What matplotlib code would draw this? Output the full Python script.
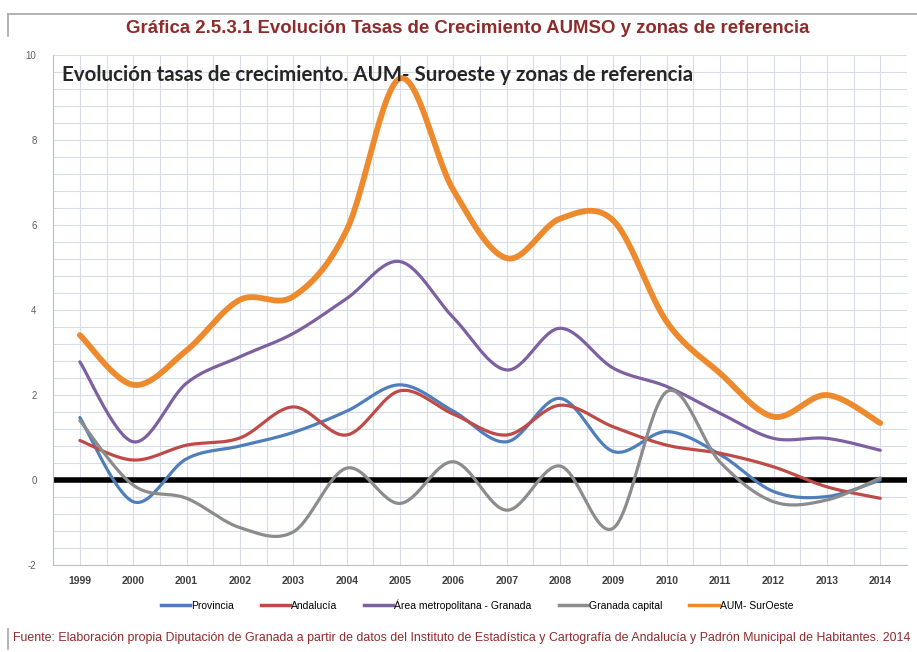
import numpy as np
import matplotlib
matplotlib.use("Agg")
import matplotlib.pyplot as plt
from matplotlib.lines import Line2D

# datos (tasas de crecimiento, %)
years = [str(y) for y in range(1999, 2015)]
provincia = [1.47, -0.51, 0.5, 0.8, 1.12, 1.62, 2.24, 1.62, 0.9, 1.92, 0.67, 1.14, 0.6, -0.27, -0.39, 0.0]
andalucia = [0.93, 0.47, 0.82, 0.99, 1.72, 1.06, 2.1, 1.55, 1.06, 1.76, 1.25, 0.82, 0.63, 0.31, -0.16, -0.43]
area_metro = [2.78, 0.9, 2.28, 2.9, 3.45, 4.27, 5.14, 3.82, 2.59, 3.57, 2.63, 2.2, 1.57, 0.98, 0.98, 0.7]
granada_cap = [1.4, -0.12, -0.43, -1.12, -1.22, 0.28, -0.55, 0.43, -0.71, 0.33, -1.13, 2.08, 0.42, -0.51, -0.47, 0.05]
aum_suroeste = [3.41, 2.24, 3.05, 4.24, 4.32, 5.88, 9.45, 6.82, 5.22, 6.15, 6.1, 3.72, 2.51, 1.49, 2.0, 1.34]

series = [
    ("Provincia", provincia, "#4F7EBB", 2.3),
    ("Andalucía", andalucia, "#BE4B48", 2.3),
    ("Área metropolitana - Granada", area_metro, "#7D60A0", 2.3),
    ("Granada capital", granada_cap, "#8C8C8C", 2.3),
    ("AUM- SurOeste", aum_suroeste, "#EE8A2E", 4.2),
]


def smooth(y, n=30):
    # curva suavizada tipo Excel (Bezier / Catmull-Rom)
    y = np.asarray(y, dtype=float)
    x = np.arange(len(y), dtype=float)
    xs, ys = [], []
    for i in range(len(y) - 1):
        p0 = (x[max(i - 1, 0)], y[max(i - 1, 0)])
        p1 = (x[i], y[i])
        p2 = (x[i + 1], y[i + 1])
        p3 = (x[min(i + 2, len(y) - 1)], y[min(i + 2, len(y) - 1)])
        c1 = (p1[0] + (p2[0] - p0[0]) / 6, p1[1] + (p2[1] - p0[1]) / 6)
        c2 = (p2[0] - (p3[0] - p1[0]) / 6, p2[1] - (p3[1] - p1[1]) / 6)
        t = np.linspace(0, 1, n)
        for k in range(2):
            b = ((1 - t) ** 3 * p1[k] + 3 * (1 - t) ** 2 * t * c1[k]
                 + 3 * (1 - t) * t ** 2 * c2[k] + t ** 3 * p2[k])
            (xs if k == 0 else ys).append(b)
    return np.concatenate(xs), np.concatenate(ys)


narrow = ["Liberation Sans Narrow", "Liberation Sans", "DejaVu Sans"]

fig = plt.figure(figsize=(9.17, 6.52), dpi=100)
ax = fig.add_axes([0.058, 0.1334, 0.931, 0.7822])

ax.set_xlim(-0.5, len(years) - 0.5)
ax.set_ylim(-2, 10)
ax.set_yticks(np.arange(-2, 10.1, 2))
ax.set_yticks(np.arange(-2, 10.01, 0.4), minor=True)
ax.set_xticks(np.arange(len(years)))
ax.set_xticks(np.arange(-0.5, len(years), 0.5), minor=True)
ax.set_xticklabels(years, fontsize=7.5, fontweight="bold", family=narrow, color="#404040")
ax.set_yticklabels([str(v) for v in range(-2, 11, 2)], fontsize=7, family=narrow, color="#606060")
ax.tick_params(which="both", length=0)
ax.tick_params(axis="y", pad=12)
ax.tick_params(axis="x", pad=8)
ax.grid(which="both", color="#D8DCEA", linewidth=0.8)
ax.set_axisbelow(True)
for s in ["top", "right"]:
    ax.spines[s].set_visible(False)
for s in ["left", "bottom"]:
    ax.spines[s].set_color("#BFBFBF")

ax.axhline(0, color="black", linewidth=4, zorder=2)

handles = []
for name, vals, color, lw in series:
    xs, ys = smooth(vals)
    ax.plot(xs, ys, color=color, linewidth=lw, solid_capstyle="round", zorder=3)
    handles.append(Line2D([0], [0], color=color, linewidth=2.5))

ax.text(0.01, 0.98, "Evolución tasas de crecimiento. AUM- Suroeste y zonas de referencia",
        transform=ax.transAxes, ha="left", va="top", fontsize=14.8, fontweight="bold",
        family=["Lato", "DejaVu Sans"], color="#262626")

fig.legend(handles, [s[0] for s in series], loc="center", bbox_to_anchor=(0.52, 0.072),
           ncol=5, frameon=False, handlelength=2.8, handletextpad=0.1, columnspacing=2.6,
           prop={"family": narrow, "size": 7.5})

# título y fuente
fig.text(0.51, 0.956, "Gráfica 2.5.3.1 Evolución Tasas de Crecimiento AUMSO y zonas de referencia",
         ha="center", va="center", fontsize=13.4, fontweight="bold", family=narrow, color="#8E2B2B")
fig.add_artist(Line2D([0.009, 1.0], [0.979, 0.979], color="#A6A6A6", linewidth=1.2))
fig.add_artist(Line2D([0.009, 0.009], [0.979, 0.945], color="#A6A6A6", linewidth=1.2))
fig.add_artist(Line2D([0.009, 0.009], [0.035, 0.005], color="#A6A6A6", linewidth=1.2))
fig.text(0.014, 0.021, "Fuente: Elaboración propia Diputación de Granada a partir de datos del Instituto de "
         "Estadística y Cartografía de Andalucía y Padrón Municipal de Habitantes. 2014",
         ha="left", va="center", fontsize=8.95, family=narrow, color="#8E2B2B")

fig.savefig("out.png", dpi=100)
